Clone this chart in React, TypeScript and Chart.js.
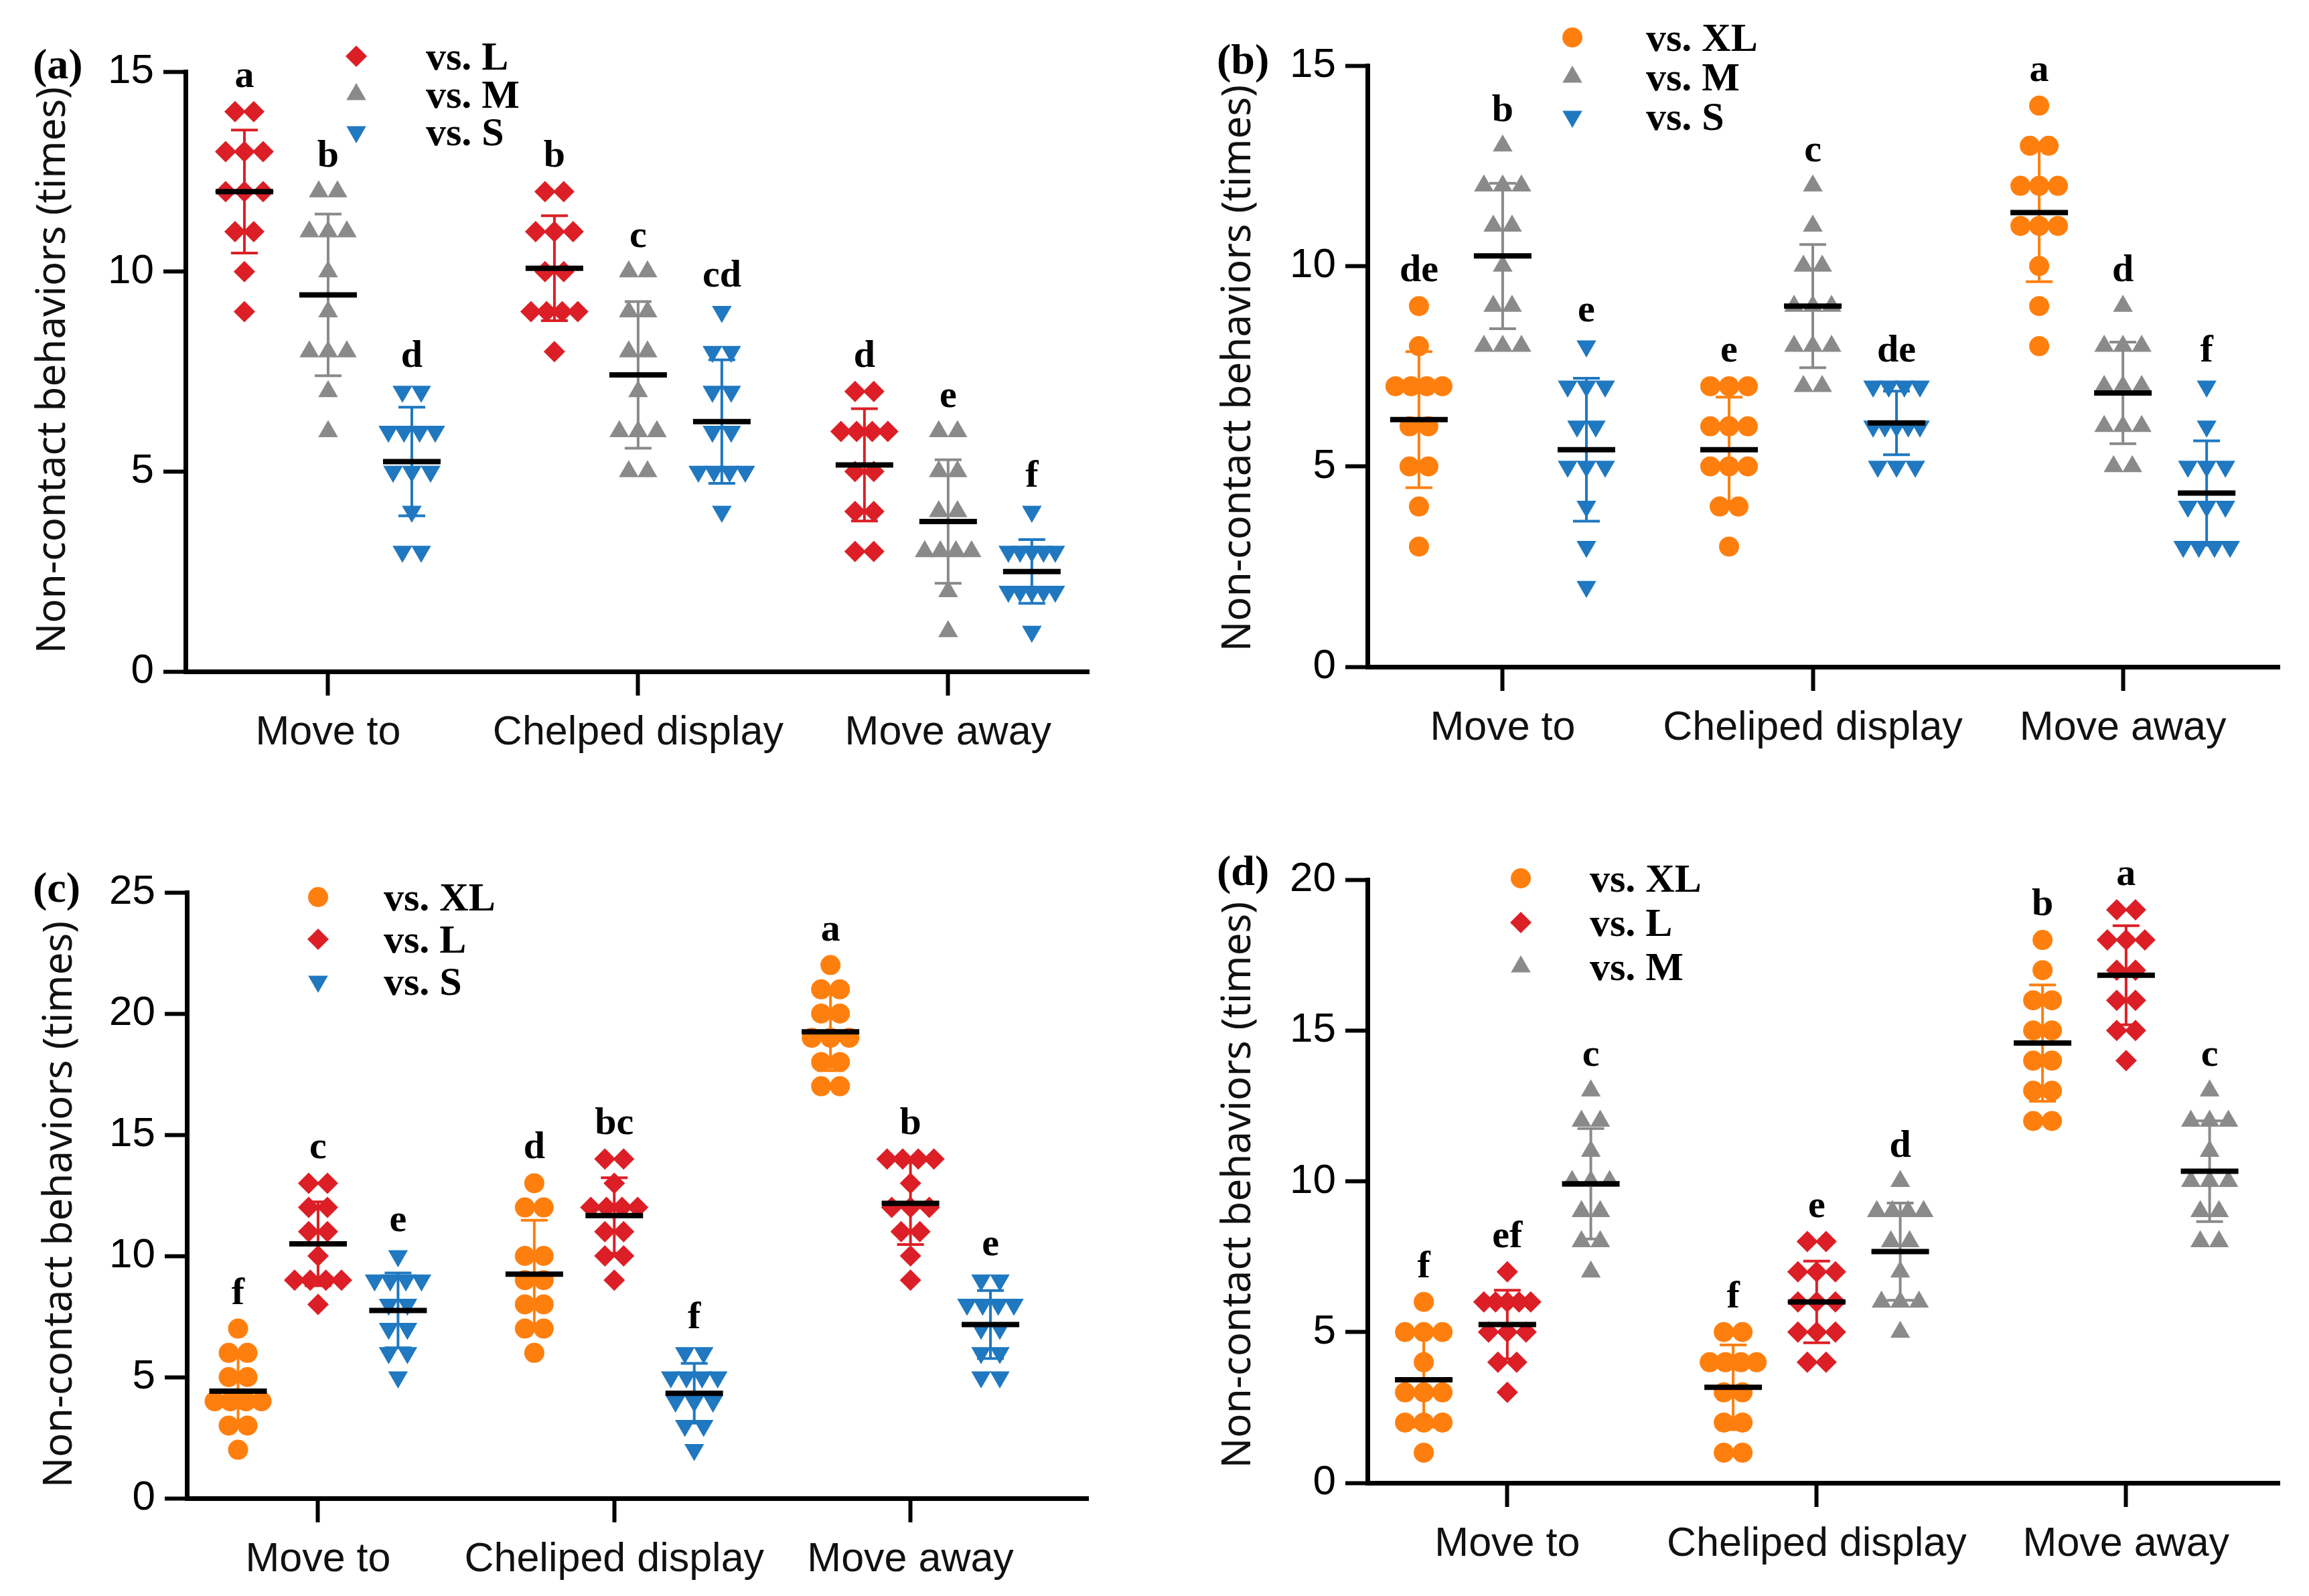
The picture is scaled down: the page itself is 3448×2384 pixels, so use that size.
import React, { useEffect, useRef } from 'react';
import { Chart, registerables } from 'chart.js';

Chart.register(...registerables);

// ---------------- data ----------------
const CATEGORIES_A = ['Move to', 'Chelped display', 'Move away'];
const CATEGORIES = ['Move to', 'Cheliped display', 'Move away'];

// Panel (a): focal crabs vs. L / M / S  (groups: Move to, Cheliped display, Move away)
const A_VS_L = [
  [14, 14, 13, 13, 13, 12, 12, 12, 11, 11, 10, 9],
  [12, 12, 11, 11, 11, 10, 10, 9, 9, 9, 9, 8],
  [7, 7, 6, 6, 6, 6, 5, 5, 4, 4, 3, 3],
];
const A_VS_M = [
  [12, 12, 11, 11, 11, 10, 9, 8, 8, 8, 7, 6],
  [10, 10, 9, 9, 8, 8, 7, 6, 6, 6, 5, 5],
  [6, 6, 5, 5, 4, 4, 3, 3, 3, 3, 2, 1],
];
const A_VS_S = [
  [7, 7, 6, 6, 6, 6, 5, 5, 5, 4, 3, 3],
  [9, 8, 8, 7, 7, 6, 6, 5, 5, 5, 5, 4],
  [4, 3, 3, 3, 3, 3, 2, 2, 2, 2, 2, 1],
];
const A_LETTERS = [
  ['a', 'b', 'd'],
  ['b', 'c', 'cd'],
  ['d', 'e', 'f'],
];

// Panel (b): vs. XL / M / S
const B_VS_XL = [
  [9, 8, 7, 7, 7, 7, 6, 6, 5, 5, 4, 3],
  [7, 7, 7, 6, 6, 6, 5, 5, 5, 4, 4, 3],
  [14, 13, 13, 12, 12, 12, 11, 11, 11, 10, 9, 8],
];
const B_VS_M = [
  [13, 12, 12, 12, 11, 11, 10, 9, 9, 8, 8, 8],
  [12, 11, 10, 10, 9, 9, 9, 8, 8, 8, 7, 7],
  [9, 8, 8, 8, 7, 7, 7, 6, 6, 6, 5, 5],
];
const B_VS_S = [
  [8, 7, 7, 7, 6, 6, 5, 5, 5, 4, 3, 2],
  [7, 7, 7, 7, 6, 6, 6, 6, 6, 5, 5, 5],
  [7, 6, 5, 5, 5, 4, 4, 4, 3, 3, 3, 3],
];
const B_LETTERS = [
  ['de', 'b', 'e'],
  ['e', 'c', 'de'],
  ['a', 'd', 'f'],
];

// Panel (c): vs. XL / L / S
const C_VS_XL = [
  [7, 6, 6, 5, 5, 4, 4, 4, 4, 3, 3, 2],
  [13, 12, 12, 10, 10, 9, 9, 8, 8, 7, 7, 6],
  [22, 21, 21, 20, 20, 19, 19, 19, 18, 18, 17, 17],
];
const C_VS_L = [
  [13, 13, 12, 12, 11, 11, 10, 9, 9, 9, 9, 8],
  [14, 14, 13, 12, 12, 12, 12, 11, 11, 10, 10, 9],
  [14, 14, 14, 14, 13, 12, 12, 12, 11, 11, 10, 9],
];
const C_VS_S = [
  [10, 9, 9, 9, 9, 8, 8, 7, 7, 6, 6, 5],
  [6, 6, 5, 5, 5, 5, 4, 4, 4, 3, 3, 2],
  [9, 9, 8, 8, 8, 8, 7, 7, 6, 6, 5, 5],
];
const C_LETTERS = [
  ['f', 'c', 'e'],
  ['d', 'bc', 'f'],
  ['a', 'b', 'e'],
];

// Panel (d): vs. XL / L / M
const D_VS_XL = [
  [6, 5, 5, 5, 4, 3, 3, 3, 2, 2, 2, 1],
  [5, 5, 4, 4, 4, 4, 3, 3, 2, 2, 1, 1],
  [18, 17, 16, 16, 15, 15, 14, 14, 13, 13, 12, 12],
];
const D_VS_L = [
  [7, 6, 6, 6, 6, 6, 5, 5, 5, 4, 4, 3],
  [8, 8, 7, 7, 7, 6, 6, 6, 5, 5, 5, 4, 4],
  [19, 19, 18, 18, 18, 17, 17, 16, 16, 15, 15, 14],
];
const D_VS_M = [
  [13, 12, 12, 11, 10, 10, 10, 9, 9, 8, 8, 7],
  [10, 9, 9, 9, 9, 8, 8, 7, 6, 6, 6, 5],
  [13, 12, 12, 12, 11, 10, 10, 10, 9, 9, 8, 8],
];
const D_LETTERS = [
  ['f', 'ef', 'c'],
  ['f', 'e', 'd'],
  ['b', 'a', 'c'],
];

const Y_TITLE = 'Non-contact behaviors (times)';

// ---------------- styles ----------------
const W = 1724;
const H = 1192;
const GROUP_OFFSETS = [-0.27, 0, 0.27];

const STYLES: Record<string, any> = {
  XL: { color: '#ff7f0e', shape: 'circle', rot: 0, r: 15 },
  L: { color: '#dc1f26', shape: 'rectRot', rot: 0, r: 16 },
  M: { color: '#8a8a8a', shape: 'triangle', rot: 0, r: 17 },
  S: { color: '#1f78c0', shape: 'triangle', rot: 180, r: 17 },
};

const SANS = '"Liberation Sans", Arial, sans-serif';
const SERIF = '"Liberation Serif", "Times New Roman", serif';
const TITLE_FONT = '"Noto Sans", "Open Sans", sans-serif';

const PANELS = [
  {
    id: 'a', label: '(a)', ox: 0, oy: 0, categories: CATEGORIES_A,
    series: [
      { key: 'L', name: 'vs. L', values: A_VS_L },
      { key: 'M', name: 'vs. M', values: A_VS_M },
      { key: 'S', name: 'vs. S', values: A_VS_S },
    ],
    letters: A_LETTERS, yMax: 15,
    left: 277, right: 1626, top: 107, bottom: 1003, xMin: -0.46, xMax: 2.454,
    labelX: 49, labelY: 117, titleX: 80, titleY: 553,
    legendMarkerX: 532, legendTextX: 636, legendRows: [84, 141, 197],
  },
  {
    id: 'b', label: '(b)', ox: 1724, oy: 0, categories: CATEGORIES,
    series: [
      { key: 'XL', name: 'vs. XL', values: B_VS_XL },
      { key: 'M', name: 'vs. M', values: B_VS_M },
      { key: 'S', name: 'vs. S', values: B_VS_S },
    ],
    letters: B_LETTERS, yMax: 15,
    left: 318, right: 1680, top: 98, bottom: 996, xMin: -0.436, xMax: 2.505,
    labelX: 93, labelY: 110, titleX: 126, titleY: 550,
    legendMarkerX: 624, legendTextX: 734, legendRows: [56, 115, 174],
  },
  {
    id: 'c', label: '(c)', ox: 0, oy: 1192, categories: CATEGORIES,
    series: [
      { key: 'XL', name: 'vs. XL', values: C_VS_XL },
      { key: 'L', name: 'vs. L', values: C_VS_L },
      { key: 'S', name: 'vs. S', values: C_VS_S },
    ],
    letters: C_LETTERS, yMax: 25,
    left: 279, right: 1625, top: 141, bottom: 1046, xMin: -0.443, xMax: 2.6,
    labelX: 49, labelY: 155, titleX: 90, titleY: 607,
    legendMarkerX: 475, legendTextX: 573, legendRows: [148, 211, 274],
  },
  {
    id: 'd', label: '(d)', ox: 1724, oy: 1192, categories: CATEGORIES,
    series: [
      { key: 'XL', name: 'vs. XL', values: D_VS_XL },
      { key: 'L', name: 'vs. L', values: D_VS_L },
      { key: 'M', name: 'vs. M', values: D_VS_M },
    ],
    letters: D_LETTERS, yMax: 20,
    left: 318, right: 1680, top: 122, bottom: 1023, xMin: -0.452, xMax: 2.496,
    labelX: 93, labelY: 130, titleX: 126, titleY: 578,
    legendMarkerX: 547, legendTextX: 650, legendRows: [120, 186, 252],
  },
];

// ---------------- helpers ----------------
function meanOf(v: number[]) {
  return v.reduce((a, b) => a + b, 0) / v.length;
}
function sdOf(v: number[]) {
  const m = meanOf(v);
  return Math.sqrt(v.reduce((a, b) => a + (b - m) * (b - m), 0) / (v.length - 1));
}

function drawMarker(ctx: CanvasRenderingContext2D, shape: string, x: number, y: number, r: number, rotDeg: number, color: string) {
  ctx.save();
  ctx.fillStyle = color;
  ctx.beginPath();
  if (shape === 'circle') {
    ctx.arc(x, y, r, 0, Math.PI * 2);
  } else if (shape === 'rectRot') {
    ctx.moveTo(x - r, y);
    ctx.lineTo(x, y - r);
    ctx.lineTo(x + r, y);
    ctx.lineTo(x, y + r);
  } else {
    let rad = (rotDeg * Math.PI) / 180;
    ctx.moveTo(x + Math.sin(rad) * r, y - Math.cos(rad) * r);
    rad += (2 * Math.PI) / 3;
    ctx.lineTo(x + Math.sin(rad) * r, y - Math.cos(rad) * r);
    rad += (2 * Math.PI) / 3;
    ctx.lineTo(x + Math.sin(rad) * r, y - Math.cos(rad) * r);
  }
  ctx.closePath();
  ctx.fill();
  ctx.restore();
}

function makeOverlay(p: any) {
  return {
    id: 'overlay_' + p.id,
    afterDatasetsDraw(chart: any) {
      const ctx = chart.ctx as CanvasRenderingContext2D;
      const xs = chart.scales.x;
      const ys = chart.scales.y;
      ctx.save();
      p.series.forEach((s: any, si: number) => {
        const st = STYLES[s.key];
        s.values.forEach((vals: number[], ci: number) => {
          const m = meanOf(vals);
          const sd = sdOf(vals);
          const px = xs.getPixelForValue(ci + GROUP_OFFSETS[si]);
          const yTop = ys.getPixelForValue(m + sd);
          const yBot = ys.getPixelForValue(m - sd);
          const yMean = ys.getPixelForValue(m);
          ctx.strokeStyle = st.color;
          ctx.lineWidth = 4;
          ctx.beginPath();
          ctx.moveTo(px, yTop);
          ctx.lineTo(px, yBot);
          ctx.moveTo(px - 20, yTop);
          ctx.lineTo(px + 20, yTop);
          ctx.moveTo(px - 20, yBot);
          ctx.lineTo(px + 20, yBot);
          ctx.stroke();
          ctx.strokeStyle = '#000';
          ctx.lineWidth = 8;
          ctx.beginPath();
          ctx.moveTo(px - 43, yMean);
          ctx.lineTo(px + 43, yMean);
          ctx.stroke();
        });
      });
      ctx.restore();
    },
    afterDraw(chart: any) {
      const ctx = chart.ctx as CanvasRenderingContext2D;
      const xs = chart.scales.x;
      const ys = chart.scales.y;
      ctx.save();
      // significance letters
      ctx.fillStyle = '#000';
      ctx.font = `bold 58px ${SERIF}`;
      ctx.textAlign = 'center';
      ctx.textBaseline = 'alphabetic';
      p.series.forEach((s: any, si: number) => {
        s.values.forEach((vals: number[], ci: number) => {
          const px = xs.getPixelForValue(ci + GROUP_OFFSETS[si]);
          const top = ys.getPixelForValue(Math.max(...vals));
          ctx.fillText(p.letters[ci][si], px, top - 37);
        });
      });
      // legend
      p.series.forEach((s: any, i: number) => {
        const st = STYLES[s.key];
        const y = p.legendRows[i];
        drawMarker(ctx, st.shape, p.legendMarkerX, y, st.r, st.rot, st.color);
        ctx.fillStyle = '#000';
        ctx.font = `bold 60px ${SERIF}`;
        ctx.textAlign = 'left';
        ctx.textBaseline = 'middle';
        ctx.fillText(s.name, p.legendTextX, y + 4);
      });
      // panel label
      ctx.fillStyle = '#000';
      ctx.font = `bold 64px ${SERIF}`;
      ctx.textAlign = 'left';
      ctx.textBaseline = 'alphabetic';
      ctx.fillText(p.label, p.labelX, p.labelY);
      // y axis title
      ctx.translate(p.titleX, p.titleY);
      ctx.rotate(-Math.PI / 2);
      ctx.font = `60px ${TITLE_FONT}`;
      ctx.fillStyle = '#111';
      ctx.textAlign = 'center';
      ctx.textBaseline = 'middle';
      ctx.fillText(Y_TITLE, 0, 0);
      ctx.restore();
    },
  };
}

function makeChart(canvas: HTMLCanvasElement, p: any) {
  const pxPerUnit = (p.right - p.left) / (p.xMax - p.xMin);
  const datasets = p.series.map((s: any, si: number) => {
    const st = STYLES[s.key];
    const pts: { x: number; y: number }[] = [];
    s.values.forEach((vals: number[], ci: number) => {
      const center = ci + GROUP_OFFSETS[si];
      const counts = new Map<number, number>();
      vals.forEach((v) => counts.set(v, (counts.get(v) || 0) + 1));
      const seen = new Map<number, number>();
      vals.forEach((v) => {
        const k = counts.get(v) as number;
        const i = seen.get(v) || 0;
        seen.set(v, i + 1);
        const spPx = k > 1 ? Math.min(28, 70 / (k - 1)) : 0;
        pts.push({ x: center + ((i - (k - 1) / 2) * spPx) / pxPerUnit, y: v });
      });
    });
    return {
      label: s.name,
      data: pts,
      pointStyle: st.shape,
      pointRotation: st.rot,
      pointRadius: st.r,
      pointHoverRadius: st.r,
      pointBorderWidth: 0,
      backgroundColor: st.color,
      borderColor: st.color,
      showLine: false,
      clip: false,
    };
  });

  return new Chart(canvas, {
    type: 'scatter',
    data: { datasets },
    options: {
      animation: false,
      responsive: false,
      devicePixelRatio: 1,
      events: [],
      layout: { padding: { left: 0, top: p.top, right: W - p.right, bottom: 0 } },
      plugins: { legend: { display: false }, tooltip: { enabled: false }, title: { display: false } },
      scales: {
        x: {
          type: 'linear',
          min: p.xMin,
          max: p.xMax,
          afterFit: (s: any) => {
            s.height = H - p.bottom;
          },
          afterBuildTicks: (s: any) => {
            s.ticks = p.categories.map((_: string, i: number) => ({ value: i }));
          },
          ticks: {
            callback: (v: any) => p.categories[Math.round(Number(v))] ?? '',
            font: { family: SANS, size: 61 },
            color: '#111',
            padding: 20,
            autoSkip: false,
            maxRotation: 0,
            minRotation: 0,
          },
          grid: { drawOnChartArea: false, drawTicks: true, tickLength: 36, tickWidth: 6, tickColor: '#000' },
          border: { display: true, color: '#000', width: 7 },
        },
        y: {
          min: 0,
          max: p.yMax,
          afterFit: (s: any) => {
            s.width = p.left;
          },
          ticks: {
            stepSize: 5,
            font: { family: SANS, size: 62 },
            color: '#000',
            padding: 14,
          },
          grid: { drawOnChartArea: false, drawTicks: true, tickLength: 33, tickWidth: 6, tickColor: '#000' },
          border: { display: true, color: '#000', width: 7 },
        },
      },
    },
    plugins: [makeOverlay(p)],
  } as any);
}

function Panel({ p }: { p: any }) {
  const ref = useRef<HTMLCanvasElement>(null);
  useEffect(() => {
    let chart: any = null;
    let cancelled = false;
    const fonts = [
      `57px ${SANS}`,
      `bold 57px ${SERIF}`,
      `60px ${TITLE_FONT}`,
    ];
    const load = (document as any).fonts
      ? Promise.all(fonts.map((f) => (document as any).fonts.load(f).catch(() => null)))
      : Promise.resolve();
    load.then(() => {
      if (cancelled || !ref.current) return;
      chart = makeChart(ref.current, p);
    });
    return () => {
      cancelled = true;
      if (chart) chart.destroy();
    };
  }, [p]);
  return (
    <canvas
      ref={ref}
      width={W}
      height={H}
      style={{ position: 'absolute', left: p.ox, top: p.oy, width: W, height: H }}
    />
  );
}

export default function App() {
  return (
    <div style={{ position: 'absolute', left: 0, top: 0, width: 3448, height: 2384, background: '#fff', overflow: 'hidden' }}>
      {PANELS.map((p) => (
        <Panel key={p.id} p={p} />
      ))}
    </div>
  );
}
